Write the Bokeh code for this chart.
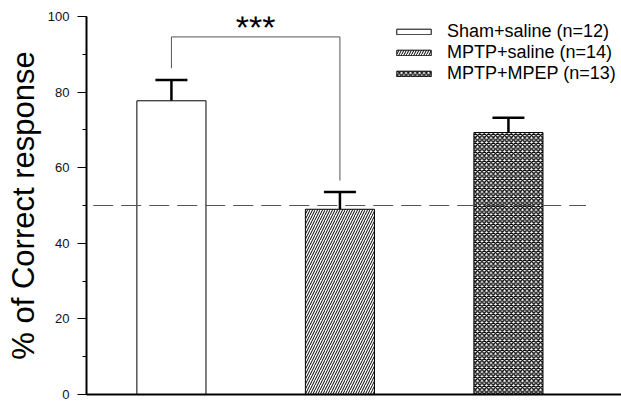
from bokeh.plotting import figure
from bokeh.models import (Range1d, SingleIntervalTicker, FixedTicker, Whisker, TeeHead,
                          ColumnDataSource, Legend, LegendItem, Label)
from bokeh.embed import file_html
from bokeh.resources import INLINE

# ---- data ----
groups = ["Sham+saline (n=12)", "MPTP+saline (n=14)", "MPTP+MPEP (n=13)"]
positions = [1, 2, 3]
means = [77.7, 49.0, 69.3]
sems = [5.5, 4.6, 3.9]
hatches = [" ", "/", "x"]
hatch_scales = [4, 5, 4.5]
hatch_weights = [1, 1.0, 1.4]
chance_level = 50
chance_x = [0.536, 3.46]
bracket_x = [1, 1, 2, 2]
bracket_y = [86.3, 94.6, 94.6, 56.6]
sig_label = "***"
sig_x = 1.5
sig_y = 97.3
y_label = "% of Correct response"

FONT = "Liberation Sans"

p = figure(width=621, height=401, output_backend="svg", toolbar_location=None,
           x_range=Range1d(0.496, 3.671), y_range=Range1d(0, 100),
           min_border_left=86, min_border_right=0, min_border_top=16, min_border_bottom=7)
p.outline_line_color = None
p.xgrid.visible = False
p.ygrid.visible = False
p.background_fill_color = "white"

renderers = []
for x, m, h, hs, hw in zip(positions, means, hatches, hatch_scales, hatch_weights):
    src = ColumnDataSource(dict(x=[x], top=[m]))
    r = p.vbar(x="x", top="top", bottom=0, width=0.41, source=src,
               fill_color="white", line_color="black", line_width=1,
               hatch_pattern=h, hatch_color="black", hatch_scale=hs, hatch_weight=hw)
    renderers.append(r)

err_src = ColumnDataSource(dict(x=positions, lo=means, hi=[m + s for m, s in zip(means, sems)]))
w = Whisker(base="x", lower="lo", upper="hi", source=err_src, dimension="height",
            line_width=2.5, line_color="black",
            upper_head=TeeHead(size=32, line_width=2.5, line_color="black"), lower_head=None)
p.add_layout(w)

p.line(chance_x, [chance_level] * len(chance_x), line_dash="20 8", line_color="#555555", line_width=1.2)
p.line(bracket_x, bracket_y, line_color="#555555", line_width=1)
p.add_layout(Label(x=sig_x, y=sig_y, text=sig_label, text_font=FONT,
                   text_font_size="34px", text_align="center", text_baseline="alphabetic",
                   text_color="black"))

# axes
p.yaxis.ticker = SingleIntervalTicker(interval=20, num_minor_ticks=2)
p.yaxis.axis_line_width = 2
p.yaxis.axis_line_color = "black"
p.yaxis.major_tick_out = 9
p.yaxis.major_tick_in = 0
p.yaxis.minor_tick_out = 4
p.yaxis.minor_tick_in = 0
p.yaxis.major_tick_line_color = "black"
p.yaxis.minor_tick_line_color = "black"
p.yaxis.major_label_standoff = 8
p.yaxis.major_label_text_font = FONT
p.yaxis.major_label_text_font_size = "13px"
p.yaxis.major_label_text_color = "#111111"
p.yaxis.axis_label = y_label
p.yaxis.axis_label_text_font = FONT
p.yaxis.axis_label_text_font_size = "31px"
p.yaxis.axis_label_text_font_style = "normal"
p.yaxis.axis_label_text_color = "black"
p.yaxis.axis_label_standoff = 4

p.xaxis.ticker = FixedTicker(ticks=[])
p.xaxis.axis_line_width = 2
p.xaxis.axis_line_color = "black"
p.xaxis.major_tick_out = 0
p.xaxis.major_tick_in = 0
p.xaxis.minor_tick_out = 0
p.xaxis.minor_tick_in = 0
p.xaxis.major_label_standoff = 0
p.xaxis.major_label_text_font_size = "0px"

legend = Legend(items=[LegendItem(label=g, renderers=[r]) for g, r in zip(groups, renderers)],
                location=(306, 310), padding=0, spacing=-2, margin=0,
                glyph_width=43, glyph_height=7, label_standoff=12, label_height=20,
                label_text_font=FONT, label_text_font_size="18px", label_text_color="black",
                border_line_color=None, background_fill_alpha=0)
p.add_layout(legend)

open("out.html", "w").write(file_html(p, INLINE))
